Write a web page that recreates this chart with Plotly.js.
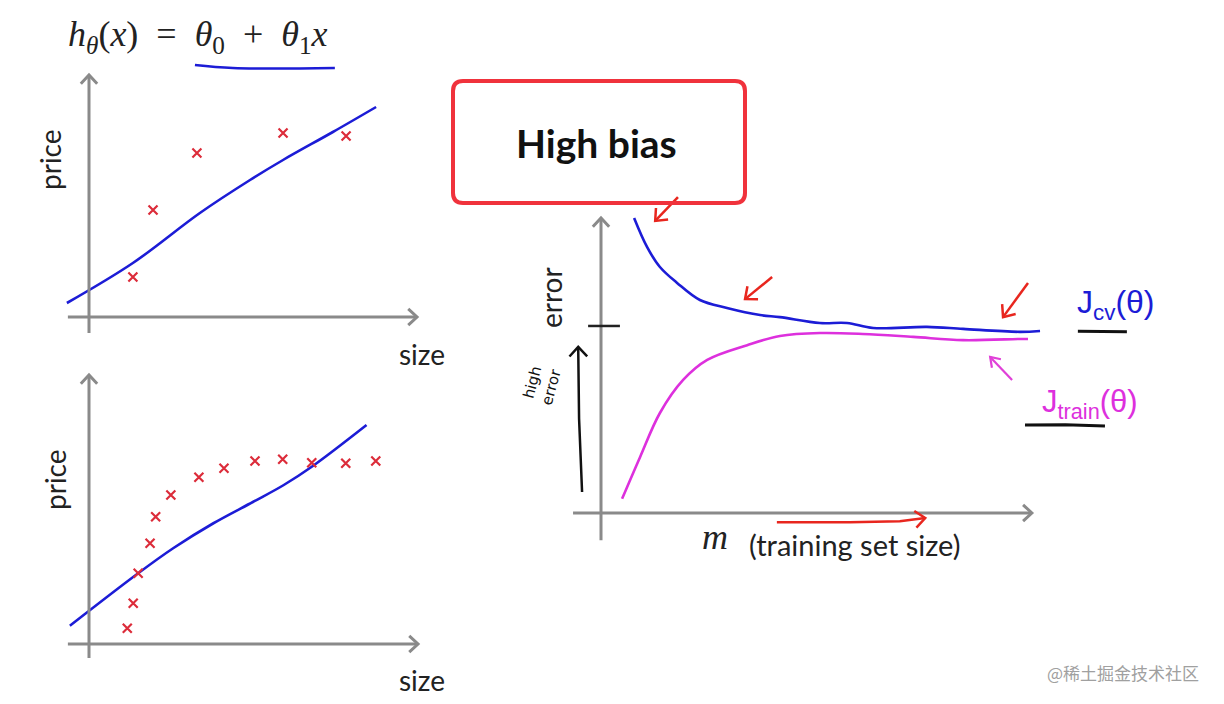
<!DOCTYPE html>
<html>
<head>
<meta charset="utf-8">
<script src="https://cdn.plot.ly/plotly-3.0.1.min.js"></script>
<style>html,body{margin:0;padding:0;background:#fff;}#chart{width:1224px;height:704px;}</style>
</head>
<body>
<div id="chart"></div>
<script>
// ---------- data ----------
// top-left: few points, straight-line hypothesis
const sizeA  = [1.33, 1.94, 3.27, 5.88, 7.79];
const priceA = [1.60, 4.28, 6.56, 7.36, 7.24];
const fitA_x = [-0.67, 1.33, 3.36, 4.88, 5.88, 7.39, 8.70];
const fitA_y = [0.56, 2.16, 4.16, 5.48, 6.28, 7.40, 8.40];
// bottom-left: many points, same straight-line hypothesis
const sizeB  = [1.16, 1.34, 1.49, 1.85, 2.02, 2.48, 3.33, 4.09, 5.03, 5.87, 6.75, 7.78, 8.69];
const priceB = [0.63, 1.63, 2.83, 4.03, 5.09, 5.96, 6.67, 7.03, 7.32, 7.39, 7.25, 7.23, 7.32];
const fitB_x = [-0.58, 1.49, 2.55, 3.77, 4.98, 5.89, 6.75, 8.41];
const fitB_y = [0.73, 2.83, 3.83, 4.83, 5.69, 6.35, 7.09, 8.76];
// right: learning curves (m = training set size)
const m_cv    = [0.77, 1.07, 1.37, 1.77, 2.30, 2.93, 3.70, 4.16, 5.09, 5.72, 6.33, 7.58, 8.42, 9.74, 10.21];
const J_cv    = [10.0, 9.02, 8.34, 7.80, 7.22, 6.95, 6.71, 6.64, 6.44, 6.44, 6.27, 6.31, 6.24, 6.14, 6.17];
const m_train = [0.49, 0.91, 1.37, 1.91, 2.47, 3.40, 4.16, 5.09, 6.09, 7.26, 8.42, 9.74, 9.93];
const J_train = [0.48, 1.90, 3.39, 4.51, 5.19, 5.69, 6.00, 6.10, 6.07, 5.97, 5.86, 5.90, 5.90];
const errorLevel = 6.34;
// hand-drawn pen marks (in the right panel's units)
const redArrows = [
  {x: [1.79, 1.26], y: [10.71, 9.90]},
  {x: [3.98, 3.35], y: [8.00, 7.25]},
  {x: [9.93, 9.35], y: [7.80, 6.64]},
  {x: [4.09, 5.79, 6.95, 7.54], y: [-0.31, -0.31, -0.28, -0.17]}
];
const trainArrow = {x: [9.56, 9.05], y: [4.51, 5.29]};
const highErrArrow = {x: [-0.44, -0.51, -0.53], y: [0.71, 3.2, 5.63]};
const formulaUnderline = {x: [3.21, 4.36, 7.45], y: [10.08, 9.96, 9.96]};

// ---------- layout helpers ----------
const W = 1224, H = 704;
const boxes = {
  A: {sfx: '',  px: [30, 450],  py: [20, 360],  o: [89, 317],  s: [33, 25]},
  B: {sfx: '2', px: [30, 450],  py: [362, 700], o: [89, 644],  s: [33, 25]},
  C: {sfx: '3', px: [470, 1215], py: [60, 600], o: [601, 513], s: [43, 29.5]}
};
function axes(b) {
  return {
    x: {domain: [b.px[0] / W, b.px[1] / W],
        range: [(b.px[0] - b.o[0]) / b.s[0], (b.px[1] - b.o[0]) / b.s[0]],
        visible: false, fixedrange: true, anchor: 'y' + b.sfx},
    y: {domain: [1 - b.py[1] / H, 1 - b.py[0] / H],
        range: [(b.o[1] - b.py[1]) / b.s[1], (b.o[1] - b.py[0]) / b.s[1]],
        visible: false, fixedrange: true, anchor: 'x' + b.sfx}
  };
}
const shapes = [];
function polyPath(xs, ys) {
  return xs.map((x, i) => (i ? 'L' : 'M') + x.toFixed(4) + ',' + ys[i].toFixed(4)).join(' ');
}
function arrow(b, xs, ys, color, width, L, ang, drawShaft = true) {
  const xr = 'x' + b.sfx, yr = 'y' + b.sfx;
  if (drawShaft) shapes.push({type: 'path', xref: xr, yref: yr, path: polyPath(xs, ys),
    line: {color: color, width: width}, layer: 'above'});
  const n = xs.length, x1 = xs[n - 1], y1 = ys[n - 1], x0 = xs[n - 2], y0 = ys[n - 2];
  const a = Math.atan2(-(y1 - y0) * b.s[1], (x1 - x0) * b.s[0]);
  const arms = [a + Math.PI - ang, a + Math.PI + ang].map(t =>
    [x1 + L * Math.cos(t) / b.s[0], y1 - L * Math.sin(t) / b.s[1]]);
  shapes.push({type: 'path', xref: xr, yref: yr,
    path: polyPath([arms[0][0], x1, arms[1][0]], [arms[0][1], y1, arms[1][1]]),
    line: {color: color, width: width}, layer: 'above'});
}
function axisArrows(b, xmin, xmax, ymin, ymax) {
  const g = '#8a8a8a';
  arrow(b, [xmin, xmax], [0, 0], g, 3, 12, 0.75);
  arrow(b, [0, 0], [ymin, ymax], g, 3, 12, 0.75);
}
axisArrows(boxes.A, -0.64, 9.94, -0.64, 9.68);
axisArrows(boxes.B, -0.64, 9.97, -0.56, 10.76);
axisArrows(boxes.C, -0.65, 10.02, -0.92, 10.0);

// tick mark on the error axis
shapes.push({type: 'line', xref: 'x3', yref: 'y3', x0: -0.30, x1: 0.44, y0: errorLevel, y1: errorLevel,
  line: {color: '#222', width: 2.5}});
// pen marks
redArrows.forEach(r => arrow(boxes.C, r.x, r.y, '#e8261e', 2.5, 13, 0.7));
arrow(boxes.C, trainArrow.x, trainArrow.y, '#e040d8', 2.2, 11, 0.6);
arrow(boxes.C, highErrArrow.x, highErrArrow.y, '#111', 2.5, 13, 0.75);
// underlines of the curve labels
shapes.push({type: 'path', xref: 'x3', yref: 'y3', path: 'M11.09,6.16 L12.23,6.14', line: {color: '#111', width: 3}});
shapes.push({type: 'path', xref: 'x3', yref: 'y3', path: 'M9.86,2.98 L10.8,2.99 L11.72,2.95', line: {color: '#111', width: 3}});

// rounded red box around "High bias"
function P(px, py) { return [(px / W), (1 - py / H)]; }
(function () {
  const x0 = 453, x1 = 745, y0 = 81, y1 = 203, r = 10;
  const pts = [
    ['M', [x0 + r, y0]], ['L', [x1 - r, y0]], ['Q', [x1, y0], [x1, y0 + r]],
    ['L', [x1, y1 - r]], ['Q', [x1, y1], [x1 - r, y1]], ['L', [x0 + r, y1]],
    ['Q', [x0, y1], [x0, y1 - r]], ['L', [x0, y0 + r]], ['Q', [x0, y0], [x0 + r, y0]]
  ];
  const path = pts.map(p => p[0] + p.slice(1).map(q => P(q[0], q[1]).map(v => v.toFixed(5)).join(',')).join(' ')).join(' ') + ' Z';
  shapes.push({type: 'path', xref: 'paper', yref: 'paper', path: path, line: {color: '#f0323c', width: 4}});
})();

// ---------- traces ----------
const red = '#dc2c3a', blue = '#1c1cd6', mag = '#dd30dd';
const traces = [
  {x: fitA_x, y: fitA_y, xaxis: 'x', yaxis: 'y', mode: 'lines', line: {color: blue, width: 2.6, shape: 'spline', smoothing: 1}},
  {x: sizeA, y: priceA, xaxis: 'x', yaxis: 'y', mode: 'markers',
   marker: {symbol: 'x-thin', size: 9, line: {width: 2.2, color: red}, color: red}},
  {x: formulaUnderline.x, y: formulaUnderline.y, xaxis: 'x', yaxis: 'y', mode: 'lines',
   line: {color: blue, width: 2.4, shape: 'spline'}},
  {x: fitB_x, y: fitB_y, xaxis: 'x2', yaxis: 'y2', mode: 'lines', line: {color: blue, width: 2.6, shape: 'spline', smoothing: 1}},
  {x: sizeB, y: priceB, xaxis: 'x2', yaxis: 'y2', mode: 'markers',
   marker: {symbol: 'x-thin', size: 9, line: {width: 2.2, color: red}, color: red}},
  {x: m_cv, y: J_cv, xaxis: 'x3', yaxis: 'y3', mode: 'lines', line: {color: blue, width: 2.6, shape: 'spline', smoothing: 1}},
  {x: m_train, y: J_train, xaxis: 'x3', yaxis: 'y3', mode: 'lines', line: {color: mag, width: 2.6, shape: 'spline', smoothing: 1}}
];

// ---------- text ----------
const sans = 'Lato, "Open Sans", sans-serif';
function txt(px, py, text, size, color, opts = {}) {
  const p = P(px, py);
  return Object.assign({xref: 'paper', yref: 'paper', x: p[0], y: p[1], text: text, showarrow: false,
    xanchor: 'center', yanchor: 'middle', font: {family: sans, size: size, color: color}}, opts);
}
const serif = '"Liberation Serif", "DejaVu Serif", serif';
const annotations = [
  txt(198, 36, '<i>h</i><sub><i>θ</i></sub>(<i>x</i>)\u2002=\u2002<i>θ</i><sub>0</sub>\u2002+\u2002<i>θ</i><sub>1</sub><i>x</i>', 36, '#222',
      {font: {family: serif, size: 36, color: '#222'}}),
  txt(50, 160, 'price', 28, '#222', {textangle: -90}),
  txt(422, 354, 'size', 28, '#222'),
  txt(55, 480, 'price', 28, '#222', {textangle: -90}),
  txt(422, 680, 'size', 28, '#222'),
  txt(596, 143, '<b>High bias</b>', 39, '#111'),
  txt(551, 298, 'error', 28, '#222', {textangle: -90}),
  txt(542, 385, 'high<br>error', 15, '#111', {textangle: -75,
      font: {family: '"DejaVu Sans", sans-serif', size: 15, color: '#111'}}),
  txt(715, 537, '<i>m</i>', 36, '#222', {font: {family: serif, size: 36, color: '#222'}}),
  txt(854, 544, '(training set size)', 29, '#222'),
  txt(1116, 304, 'J<sub>cv</sub>(θ)', 32, blue, {font: {family: '"Liberation Sans", sans-serif', size: 32, color: blue}}),
  txt(1090, 404, 'J<sub>train</sub>(θ)', 31, mag, {font: {family: '"Liberation Sans", sans-serif', size: 31, color: mag}}),
  txt(1123, 672, '@稀土掘金技术社区', 17, '#a0a0a0', {font: {family: '"Noto Sans CJK SC", sans-serif', size: 17, color: '#a0a0a0'}})
];

const aA = axes(boxes.A), aB = axes(boxes.B), aC = axes(boxes.C);
const layout = {
  width: W, height: H, margin: {l: 0, r: 0, t: 0, b: 0},
  paper_bgcolor: '#ffffff', plot_bgcolor: 'rgba(0,0,0,0)', showlegend: false,
  xaxis: aA.x, yaxis: aA.y, xaxis2: aB.x, yaxis2: aB.y, xaxis3: aC.x, yaxis3: aC.y,
  shapes: shapes, annotations: annotations, hovermode: false
};
Plotly.newPlot('chart', traces, layout, {displayModeBar: false, staticPlot: true});
</script>
</body>
</html>
